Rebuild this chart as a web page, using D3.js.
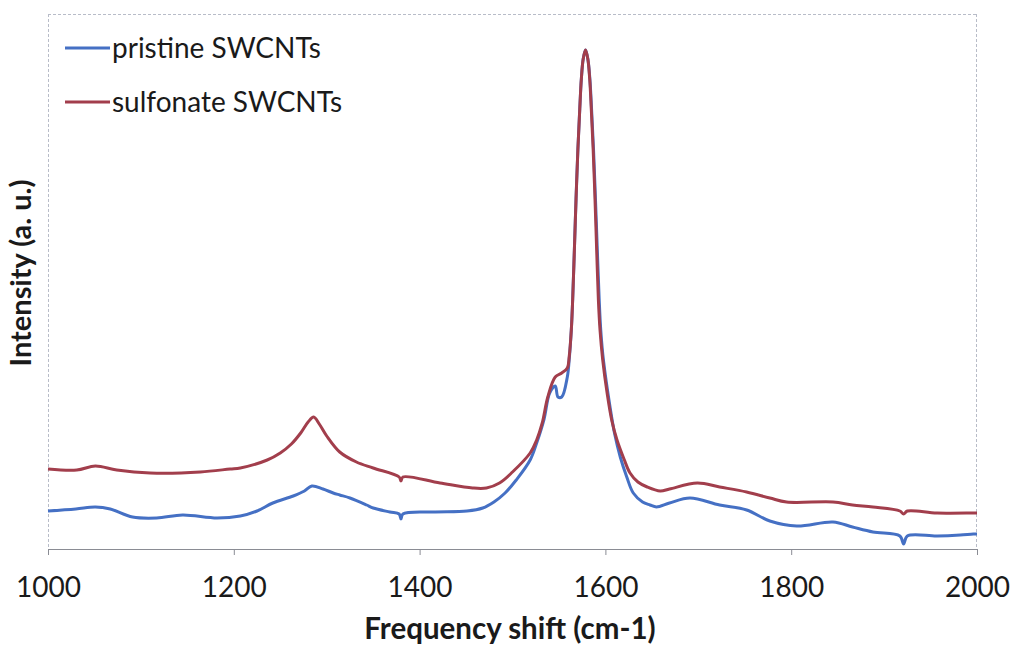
<!DOCTYPE html>
<html>
<head>
<meta charset="utf-8">
<script src="https://cdn.jsdelivr.net/npm/d3@7"></script>
<style>
  html, body { margin: 0; padding: 0; background: #fff; }
  svg { display: block; }
  text { font-family: Lato, "Open Sans", sans-serif; fill: #1a1a1a; }
</style>
</head>
<body>
<svg id="chart" width="1013" height="650"></svg>
<script>
// Raman spectra of SWCNTs: wavenumber (cm-1) and intensity (a. u.)
const pristineShift = [1000, 1030, 1051, 1067, 1091, 1117, 1145, 1182, 1207, 1225, 1242, 1264, 1276, 1284, 1296, 1307, 1314, 1325, 1343, 1350, 1368, 1378, 1380, 1382, 1414, 1451, 1468, 1480, 1492, 1504, 1519, 1526, 1534, 1540, 1546, 1549, 1553, 1559, 1561, 1563.3, 1564.8, 1566.6, 1568.4, 1570.4, 1572.4, 1574.1, 1576.1, 1578.6, 1581.1, 1583.3, 1585.1, 1587.2, 1589.3, 1591.3, 1593.3, 1595, 1598, 1605, 1610, 1616, 1623, 1630, 1640, 1648, 1655, 1669, 1691, 1723, 1752, 1777, 1806, 1845, 1866, 1888, 1917, 1921, 1925, 1957, 1982, 1996, 2000];
const pristineIntensity = [38, 40, 42, 40, 32, 31, 34, 31, 33, 38, 46, 53, 58, 63, 60, 56, 54, 51, 44, 41, 37, 35, 30, 35, 37, 38, 41, 47, 56, 69, 89, 106, 130, 156, 163, 152, 152, 172, 189, 219, 250, 299, 350, 400, 440, 470, 490, 499, 490, 470, 440, 400, 350, 299, 250, 219, 188, 142, 115, 92, 72, 56, 47, 44, 42, 46, 51, 44, 39, 28, 23, 27, 22, 17, 13, 5, 13, 13, 14, 15, 15];

const sulfonateShift = [1000, 1031, 1051, 1074, 1110, 1164, 1196, 1207, 1236, 1250, 1262, 1272, 1280, 1286, 1292, 1300, 1314, 1332, 1350, 1378, 1380, 1382, 1422, 1457, 1472, 1486, 1500, 1519, 1526, 1532, 1538, 1546, 1553, 1559, 1561, 1563.3, 1564.8, 1566.6, 1568.4, 1570.4, 1572.4, 1574.1, 1576.1, 1578.6, 1581.1, 1583.1, 1584.8, 1586.8, 1588.8, 1590.6, 1592.4, 1594.2, 1597, 1602, 1607, 1612.5, 1620, 1626.5, 1635, 1645, 1659, 1669, 1699, 1723, 1752, 1777, 1795, 1845, 1866, 1888, 1917, 1921, 1925, 1957, 1996, 2000];
const sulfonateIntensity = [80, 79, 83, 79, 76, 77, 80, 81, 89, 96, 105, 116, 127, 132, 125, 113, 97, 87, 81, 72, 68, 72, 66, 61, 61, 66, 77, 96, 109, 126, 152, 172, 176, 181, 192, 219, 250, 299, 350, 400, 440, 470, 490, 499, 490, 470, 440, 400, 350, 299, 250, 219, 190, 155, 128, 109, 90, 76, 67, 62, 58, 60, 66, 62, 57, 51, 47, 47, 44, 42, 38, 35, 38, 36, 36, 36];

const xTicks = [1000, 1200, 1400, 1600, 1800, 2000];
const seriesNames = ["pristine SWCNTs", "sulfonate SWCNTs"];
const seriesColors = ["#4570c4", "#a23e4c"];

const svg = d3.select("#chart");
const plot = { left: 48, right: 977, top: 14, bottom: 549 };

const x = d3.scaleLinear().domain([1000, 2000]).range([plot.left, plot.right]);
const y = d3.scaleLinear().domain([0, 535]).range([plot.bottom, plot.top]);

// plot-area frame: faint dashed top and sides
const frame = svg.append("g").attr("stroke", "#b8bcc8").attr("stroke-width", 1)
  .attr("stroke-dasharray", "3,2").attr("fill", "none");
frame.append("line").attr("x1", plot.left).attr("x2", plot.right).attr("y1", plot.top + 0.5).attr("y2", plot.top + 0.5);
frame.append("line").attr("x1", plot.left + 0.5).attr("x2", plot.left + 0.5).attr("y1", plot.top).attr("y2", plot.bottom);
frame.append("line").attr("x1", plot.right - 0.5).attr("x2", plot.right - 0.5).attr("y1", plot.top).attr("y2", plot.bottom);

// x axis
const xAxis = svg.append("g")
  .attr("transform", `translate(0,${plot.bottom})`)
  .call(d3.axisBottom(x).tickValues(xTicks).tickFormat(d3.format("d")).tickSize(6).tickSizeOuter(0).tickPadding(22));
xAxis.select(".domain").attr("stroke", "#8a8c94").attr("stroke-width", 1.2);
xAxis.selectAll(".tick line").attr("stroke", "#8a8c94");
xAxis.selectAll("text").style("font-size", "28px").attr("fill", "#1a1a1a");

// spectra
const line = d3.line().curve(d3.curveCatmullRom.alpha(0.5)).x(d => x(d[0])).y(d => y(d[1]));
const series = [
  d3.zip(pristineShift, pristineIntensity),
  d3.zip(sulfonateShift, sulfonateIntensity)
];
series.forEach((pts, i) => {
  svg.append("path").datum(pts)
    .attr("fill", "none")
    .attr("stroke", seriesColors[i])
    .attr("stroke-width", 3)
    .attr("stroke-linejoin", "round")
    .attr("d", line);
});

// legend
const legend = svg.append("g");
seriesNames.forEach((name, i) => {
  const ly = 48 + i * 54;
  legend.append("line").attr("x1", 65).attr("x2", 110).attr("y1", ly).attr("y2", ly)
    .attr("stroke", seriesColors[i]).attr("stroke-width", 3);
  legend.append("text").attr("x", 112).attr("y", ly).attr("dy", "0.35em")
    .style("font-size", "28px").text(name);
});

// axis titles
svg.append("text").attr("x", 510).attr("y", 639)
  .attr("text-anchor", "middle").style("font-size", "29.5px").style("font-weight", "bold")
  .text("Frequency shift (cm-1)");
svg.append("text")
  .attr("transform", `translate(31,273) rotate(-90)`)
  .attr("text-anchor", "middle").style("font-size", "29px").style("font-weight", "bold")
  .text("Intensity (a. u.)");
</script>
</body>
</html>
